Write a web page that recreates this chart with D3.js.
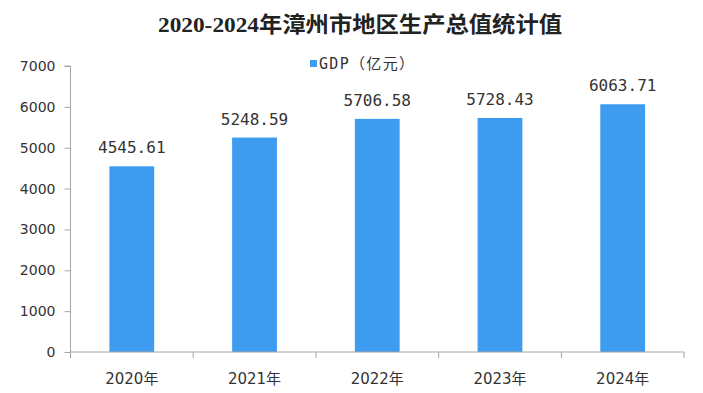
<!DOCTYPE html>
<html>
<head>
<meta charset="utf-8">
<script src="https://cdn.jsdelivr.net/npm/d3@7"></script>
<style>
  html, body { margin: 0; padding: 0; background: #fff; }
  svg { display: block; }
</style>
</head>
<body>
<div id="chart"></div>
<script>
// chart data
var years = ['2020年', '2021年', '2022年', '2023年', '2024年'];
var gdp = [4545.61, 5248.59, 5706.58, 5728.43, 6063.71];
var yTicks = [0, 1000, 2000, 3000, 4000, 5000, 6000, 7000];
var title = '2020-2024年漳州市地区生产总值统计值';
var seriesName = 'GDP（亿元）';

var W = 703, H = 393;
var m = {left: 70.5, right: 19, top: 66, bottom: 41};
var axisColor = '#a6a6a6', barColor = '#3d9bf0', textColor = '#333';

var svg = d3.select('#chart').append('svg').attr('width', W).attr('height', H);

// scales
var x = d3.scaleBand().domain(years).range([m.left, W - m.right]).paddingInner(0.635).paddingOuter(0.317);
var y = d3.scaleLinear().domain([0, 7000]).range([H - m.bottom, m.top]);

// title
svg.append('text')
    .attr('x', 158).attr('y', 32)
    .attr('textLength', 404).attr('lengthAdjust', 'spacingAndGlyphs')
    .style('font-family', '"Liberation Serif", "Noto Sans CJK SC", serif')
    .style('font-weight', 'bold').style('font-size', '22px').style('fill', '#222')
    .text(title);

// legend
var lg = svg.append('g').attr('transform', 'translate(310,59)');
lg.append('rect').attr('width', 7).attr('height', 7).attr('y', 1).attr('fill', barColor);
lg.append('text').attr('x', 9).attr('y', 10)
    .attr('textLength', 95).attr('lengthAdjust', 'spacing')
    .style('font-family', '"DejaVu Sans Mono", "Noto Sans CJK SC", monospace')
    .style('font-size', '15px').style('fill', textColor)
    .text(seriesName);

// y axis
var yAxis = svg.append('g').attr('transform', 'translate(' + m.left + ',0)')
    .call(d3.axisLeft(y).tickValues(yTicks).tickSize(6).tickPadding(9).tickFormat(d3.format('d')));
yAxis.selectAll('path, line').attr('stroke', axisColor);
yAxis.select('.domain').attr('d', 'M-6,' + y(7000) + 'H0V' + y(0));
yAxis.selectAll('text').style('font-family', '"DejaVu Sans", sans-serif').style('font-size', '14px').style('fill', textColor);

// bars
svg.append('g').selectAll('rect').data(gdp).join('rect')
    .attr('x', function(d, i){ return x(years[i]); })
    .attr('y', function(d){ return y(d); })
    .attr('width', x.bandwidth())
    .attr('height', function(d){ return y(0) - y(d); })
    .attr('fill', barColor);

// value labels
svg.append('g').selectAll('text').data(gdp).join('text')
    .attr('x', function(d, i){ return x(years[i]) + x.bandwidth() / 2; })
    .attr('y', function(d){ return y(d) - 13; })
    .attr('text-anchor', 'middle')
    .style('font-family', '"DejaVu Sans Mono", monospace').style('font-size', '16px').style('fill', textColor)
    .text(function(d){ return d3.format('.2f')(d); });

// x axis, ticks at band edges
var step = x.step();
var edges = d3.range(years.length + 1).map(function(i){ return m.left + i * step; });
var xg = svg.append('g');
xg.append('line').attr('x1', m.left).attr('x2', W - m.right).attr('y1', y(0)).attr('y2', y(0)).attr('stroke', axisColor);
xg.selectAll('line.tk').data(edges).join('line').attr('class', 'tk')
    .attr('x1', function(d){ return d; }).attr('x2', function(d){ return d; })
    .attr('y1', y(0)).attr('y2', y(0) + 6).attr('stroke', axisColor);
xg.selectAll('text').data(years).join('text')
    .attr('x', function(d){ return x(d) + x.bandwidth() / 2; })
    .attr('y', 384)
    .attr('text-anchor', 'middle')
    .style('font-family', '"DejaVu Sans", "Noto Sans CJK SC", sans-serif').style('font-size', '15px').style('fill', textColor)
    .text(function(d){ return d; });
</script>
</body>
</html>
